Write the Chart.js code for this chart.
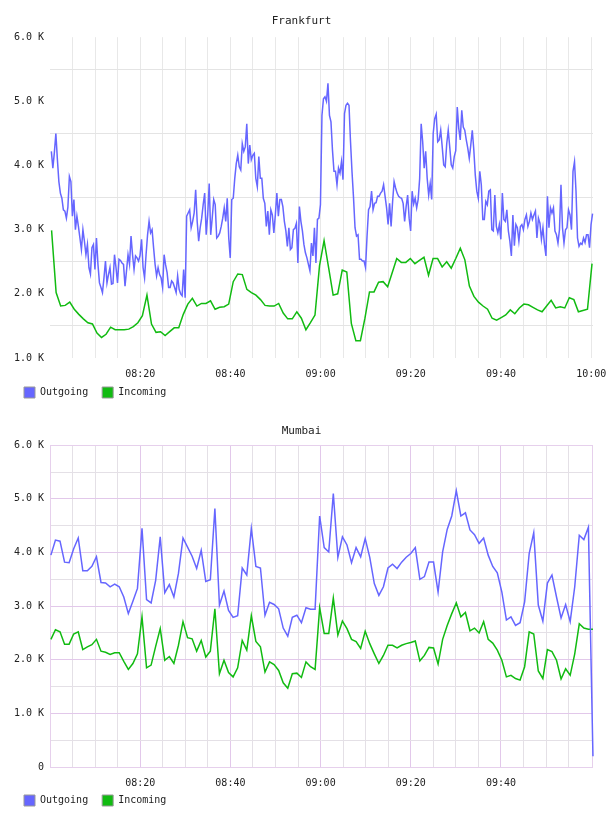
<!DOCTYPE html>
<html>
<head>
<meta charset="utf-8">
<title>Frankfurt / Mumbai traffic</title>
<script src="https://cdn.jsdelivr.net/npm/chart.js@4.4.1/dist/chart.umd.min.js"></script>
<style>
  html, body { margin: 0; padding: 0; background: #fff; }
  .panel { width: 608px; height: 408px; }
</style>
</head>
<body>
<div class="panel"><canvas id="frankfurt" width="608" height="408"></canvas></div>
<div class="panel"><canvas id="mumbai" width="608" height="408"></canvas></div>
<script>
// All traffic values are in thousands (the axis shows "K")
// Time is minutes after 08:00

// Frankfurt outgoing, one sample every 20 s starting 08:00:18
const frankfurtOutgoing = [
  4.22,3.96,4.2,4.5,4.1,3.75,3.57,3.49,3.31,3.29,
  3.18,3.35,3.83,3.75,3.21,3.47,3.0,3.21,3.05,2.87,
  2.69,3.0,2.82,2.61,2.77,2.41,2.31,2.72,2.77,2.38,
  2.87,2.46,2.17,2.1,2.02,2.25,2.51,2.17,2.3,2.41,
  2.15,2.16,2.61,2.41,2.17,2.54,2.52,2.48,2.46,2.12,
  2.36,2.61,2.46,2.9,2.61,2.38,2.59,2.56,2.51,2.6,
  2.85,2.41,2.25,2.61,2.92,3.13,2.95,3.0,2.72,2.46,
  2.28,2.41,2.3,2.25,2.1,2.61,2.45,2.33,2.1,2.1,
  2.2,2.17,2.1,2.02,2.28,2.07,2.0,1.97,2.38,1.94,
  3.21,
  3.26,3.31,3.03,3.13,3.26,3.62,3.13,2.82,3.03,3.18,
  3.39,3.57,2.92,3.23,3.72,2.92,3.18,3.47,3.39,2.87,
  2.90,2.95,3.05,3.18,3.34,3.13,3.49,2.87,2.56,3.47,
  3.49,3.80,4.03,4.16,3.98,3.93,4.34,4.22,4.29,4.65,
  4.03,4.32,4.09,4.16,4.19,3.80,3.67,4.14,3.80,3.80,
  3.49,3.41,3.05,3.29,2.92,3.31,3.23,2.95,3.23,3.57,
  3.21,3.47,3.47,3.36,3.13,2.98,2.74,3.03,2.69,2.72,
  3.00,3.02,3.10,2.48,3.36,3.13,2.98,2.77,2.64,2.56,
  2.46,2.36,2.79,2.59,3.03,2.48,3.16,3.18,3.39,4.78,
  5.04,5.07,5.0,5.28,4.78,4.68,4.24,3.91,3.91,3.70,
  3.96,3.88,4.06,3.78,4.81,4.94,4.97,4.94,4.37,3.9,
  3.5,3.03,2.90,2.92,2.54,2.54,2.51,2.51,2.41,2.9,
  3.31,3.36,3.60,3.31,3.41,3.42,3.52,3.52,3.57,3.60,
  3.70,3.52,3.34,3.08,3.41,3.05,3.44,3.75,3.65,3.57,
  3.52,3.5,3.49,3.41,3.13,3.36,3.54,3.18,2.98,3.60,
  3.40,3.49,3.34,3.47,3.80,4.65,4.37,3.96,4.22,3.80,
  3.54,3.72,3.47,4.50,4.73,4.8,4.37,4.40,4.55,4.29,
  4.01,3.98,4.34,4.55,4.29,4.01,3.96,4.14,4.23,4.91,
  4.58,4.40,4.86,4.60,4.55,4.40,4.27,4.11,4.32,4.55,
  4.25,3.85,3.60,3.49,3.91,3.70,3.16,3.16,3.44,3.39,
  3.60,3.62,3.00,2.98,3.54,3.05,2.95,3.08,2.85,3.57,
  3.16,3.13,3.31,2.98,2.82,2.59,3.23,2.75,3.08,3.03,
  2.82,3.05,3.08,3.00,3.16,3.23,3.05,3.13,3.26,3.16,
  3.23,3.29,2.87,3.18,3.10,2.85,3.03,2.77,2.59,3.52,
  3.03,3.34,3.26,3.34,2.98,2.92,2.79,3.00,3.70,3.03,
  2.79,3.00,3.03,3.31,3.23,3.0,3.91,4.06,3.60,2.87,
  2.74,2.79,2.77,2.87,2.80,2.92,2.92,2.72,3.08,3.25
];
const frankfurtOutStart = 0.3;
const frankfurtOutStep = 1 / 3;

// Frankfurt incoming, about one sample per minute
const frankfurtIncoming = [
  2.99,2.02,1.81,1.82,1.87,1.76,1.68,1.61,1.55,1.53,
  1.39,1.32,1.37,1.48,1.44,1.44,1.44,1.45,1.49,1.55,
  1.66,1.98,1.53,1.40,1.41,1.35,1.41,1.47,1.47,1.68,
  1.84,1.93,1.81,1.85,1.85,1.89,1.76,1.79,1.80,1.84,
  2.19,2.31,2.30,2.07,2.02,1.98,1.91,1.82,1.81,1.81,
  1.85,1.70,1.61,1.61,1.72,1.62,1.44,1.55,1.67,2.44,
  2.83,2.41,1.98,2.00,2.37,2.34,1.54,1.27,1.27,1.62,
  2.03,2.03,2.18,2.19,2.11,2.33,2.55,2.49,2.49,2.55,
  2.47,2.52,2.57,2.29,2.55,2.55,2.42,2.50,2.40,2.55,
  2.71,2.53,2.12,1.96,1.87,1.81,1.76,1.62,1.59,1.63,
  1.67,1.75,1.69,1.78,1.84,1.83,1.79,1.75,1.72,1.81,
  1.90,1.78,1.80,1.78,1.94,1.91,1.72,1.74,1.76,2.47
];
const frankfurtInStart = 0.35;
const frankfurtInStep = 1.007;

// Mumbai, about one sample per minute for both series
const mumbaiOutgoing = [
  3.95,4.23,4.21,3.82,3.81,4.07,4.27,3.66,3.66,3.74,
  3.92,3.44,3.43,3.36,3.41,3.36,3.17,2.86,3.09,3.33,
  4.45,3.12,3.06,3.48,4.29,3.25,3.40,3.17,3.61,4.27,
  4.10,3.93,3.70,4.04,3.46,3.49,4.82,3.02,3.28,2.92,
  2.79,2.82,3.71,3.58,4.45,3.74,3.71,2.83,3.07,3.03,
  2.95,2.59,2.44,2.79,2.83,2.69,2.97,2.94,2.94,4.68,
  4.09,4.01,5.10,3.91,4.29,4.14,3.81,4.09,3.92,4.26,
  3.91,3.42,3.20,3.36,3.71,3.78,3.70,3.82,3.91,3.98,
  4.09,3.50,3.55,3.82,3.82,3.26,4.01,4.43,4.68,5.15,
  4.68,4.74,4.42,4.33,4.17,4.27,3.95,3.74,3.62,3.26,
  2.74,2.80,2.64,2.69,3.08,3.98,4.37,3.02,2.72,3.43,
  3.58,3.17,2.78,3.03,2.71,3.36,4.32,4.24,4.47,0.20
];
const mumbaiIncoming = [
  2.38,2.56,2.52,2.29,2.29,2.48,2.52,2.19,2.24,2.28,
  2.38,2.16,2.14,2.10,2.13,2.13,1.97,1.82,1.93,2.11,
  2.80,1.85,1.90,2.25,2.58,1.99,2.06,1.93,2.27,2.71,
  2.41,2.39,2.16,2.36,2.05,2.16,2.95,1.74,1.99,1.76,
  1.68,1.85,2.36,2.18,2.82,2.34,2.24,1.77,1.96,1.91,
  1.80,1.57,1.47,1.74,1.75,1.67,1.96,1.87,1.82,2.97,
  2.49,2.49,3.15,2.46,2.72,2.58,2.38,2.34,2.21,2.53,
  2.30,2.11,1.93,2.08,2.27,2.27,2.22,2.27,2.30,2.32,
  2.35,1.98,2.08,2.23,2.22,1.92,2.38,2.64,2.86,3.06,
  2.80,2.88,2.54,2.59,2.50,2.71,2.38,2.31,2.18,1.99,
  1.68,1.71,1.65,1.62,1.87,2.52,2.48,1.79,1.65,2.19,
  2.15,1.99,1.64,1.83,1.71,2.11,2.67,2.59,2.57,2.57
];
const mumbaiStart = 0.2;
const mumbaiStep = 1.01;

// labelled time ticks (minutes after 08:00)
const labelledMinutes = [20, 40, 60, 80, 100, 120];
const seriesNames = ['Outgoing', 'Incoming'];
const seriesColors = ['#6666ff', '#11bb11'];

const MONO = '"DejaVu Sans Mono", "Liberation Mono", monospace';

function toPoints(values, start, step) {
    return values.map((v, i) => ({ x: start + i * step, y: v }));
}

function timeLabel(minutes) {
    const h = 8 + Math.floor(minutes / 60);
    const m = minutes % 60;
    return String(h).padStart(2, '0') + ':' + String(m).padStart(2, '0');
}

// The x axis box is kept short so the legend sits close under it;
// after layout, let its labels draw below the box instead of being clipped.
const roomForTimeLabels = {
    id: 'roomForTimeLabels',
    afterLayout(chart) {
        const x = chart.scales.x;
        x.bottom += 20;
        x.height += 20;
    }
};

// draws the frame round the plot (Mumbai only)
const frameOutline = {
    id: 'frameOutline',
    beforeDatasetsDraw(chart, args, opts) {
        if (!opts.color) return;
        const a = chart.chartArea;
        const ctx = chart.ctx;
        ctx.save();
        ctx.strokeStyle = opts.color;
        ctx.lineWidth = 1;
        ctx.strokeRect(Math.round(a.left) + 0.5, Math.round(a.top) + 0.5,
                       Math.round(a.right - a.left) - 1, Math.round(a.bottom - a.top));
        ctx.restore();
    }
};

function makeChart(id, cfg) {
    const ctx = document.getElementById(id).getContext('2d');
    return new Chart(ctx, {
        type: 'line',
        data: {
            datasets: [
                {
                    label: seriesNames[0],
                    data: cfg.outgoing,
                    borderColor: seriesColors[0],
                    backgroundColor: seriesColors[0],
                    borderWidth: 1.5,
                    pointRadius: 0,
                    tension: 0,
                    clip: 4
                },
                {
                    label: seriesNames[1],
                    data: cfg.incoming,
                    borderColor: seriesColors[1],
                    backgroundColor: seriesColors[1],
                    borderWidth: 1.5,
                    pointRadius: 0,
                    tension: 0,
                    clip: 4
                }
            ]
        },
        options: {
            responsive: false,
            animation: false,
            events: [],
            layout: { padding: { left: 10, right: 15, top: 0, bottom: 0 } },
            scales: {
                x: {
                    type: 'linear',
                    min: 0,
                    max: 120.4,
                    grid: {
                        drawTicks: false,
                        lineWidth: 1,
                        color: (c) => cfg.xGrid(c.tick ? c.tick.value : -1)
                    },
                    border: { display: false },
                    ticks: {
                        stepSize: 5,
                        includeBounds: false,
                        autoSkip: false,
                        maxRotation: 0,
                        minRotation: 0,
                        padding: 10,
                        color: '#222',
                        font: { family: MONO, size: 10 },
                        callback: (v) => cfg.xLabels.includes(v) ? timeLabel(v) : ''
                    },
                    afterFit: (scale) => {
                        scale.height = cfg.xAxisHeight;
                        // the last label may run to the canvas edge, as in the original
                        scale.paddingLeft = 0;
                        scale.paddingRight = 0;
                    }
                },
                y: {
                    min: cfg.yMin,
                    max: 6,
                    grid: {
                        drawTicks: false,
                        lineWidth: 1,
                        color: (c) => cfg.yGrid(c.tick ? c.tick.value : -1)
                    },
                    border: { display: false },
                    ticks: {
                        stepSize: 0.5,
                        autoSkip: false,
                        padding: 6,
                        color: '#222',
                        font: { family: MONO, size: 10 },
                        callback: (v) => {
                            if (v % 1 !== 0) return '';
                            return v === 0 ? '0' : v.toFixed(1) + ' K';
                        }
                    },
                    afterFit: (scale) => { scale.width = 40; }
                }
            },
            plugins: {
                title: {
                    display: true,
                    text: cfg.title,
                    color: '#222',
                    font: { family: MONO, size: 11, weight: 'normal' },
                    padding: cfg.titlePadding
                },
                legend: {
                    position: 'bottom',
                    align: 'start',
                    labels: {
                        boxWidth: 11,
                        boxHeight: 11,
                        padding: 14,
                        color: '#222',
                        font: { family: MONO, size: 10 },
                        generateLabels: (chart) => {
                            const items = Chart.defaults.plugins.legend.labels.generateLabels(chart);
                            items.forEach((it) => {
                                it.strokeStyle = '#999';
                                it.lineWidth = 1;
                            });
                            return items;
                        }
                    }
                },
                tooltip: { enabled: false },
                frameOutline: { color: cfg.frame }
            }
        },
        plugins: [frameOutline, roomForTimeLabels]
    });
}

// Frankfurt: light grid, horizontal lines only between the labels
makeChart('frankfurt', {
    title: 'Frankfurt',
    outgoing: toPoints(frankfurtOutgoing, frankfurtOutStart, frankfurtOutStep),
    incoming: toPoints(frankfurtIncoming, frankfurtInStart, frankfurtInStep),
    yMin: 1,
    xLabels: labelledMinutes,
    xAxisHeight: 15,
    titlePadding: { top: 15, bottom: 9 },
    frame: null,
    xGrid: (v) => v > 0 ? '#e8e8e8' : 'rgba(0,0,0,0)',
    yGrid: (v) => (v % 1 !== 0) ? '#e4e4e4' : 'rgba(0,0,0,0)'
});

// Mumbai: purple major grid, grey minor grid, framed plot
makeChart('mumbai', {
    title: 'Mumbai',
    outgoing: toPoints(mumbaiOutgoing, mumbaiStart, mumbaiStep),
    incoming: toPoints(mumbaiIncoming, mumbaiStart, mumbaiStep),
    yMin: 0,
    xLabels: labelledMinutes.slice(0, 5),
    xAxisHeight: 14,
    titlePadding: { top: 17, bottom: 7 },
    frame: '#e6d0ec',
    xGrid: (v) => {
        if (v >= 120 || v < 0) return 'rgba(0,0,0,0)';
        return v % 20 === 0 ? '#e2c8ea' : '#e4e0e6';
    },
    yGrid: (v) => v % 1 === 0 ? '#e2c8ea' : '#e4e0e6'
});
</script>
</body>
</html>
